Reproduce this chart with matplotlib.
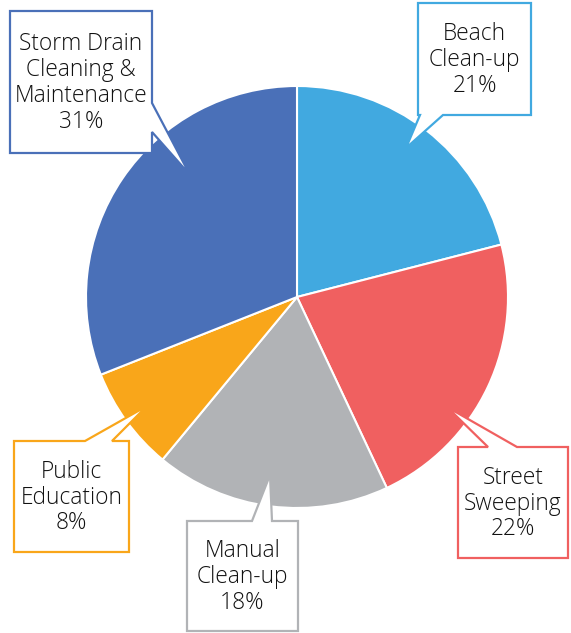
#!/usr/bin/env python3
"""Pie chart of cleanup activities with callout labels -> out.png"""
import matplotlib
matplotlib.use("Agg")
import matplotlib.pyplot as plt
from matplotlib.patches import Polygon

# --- data -----------------------------------------------------------------
categories = ["Beach\nClean-up", "Street\nSweeping", "Manual\nClean-up",
              "Public\nEducation", "Storm Drain\nCleaning &\nMaintenance"]
shares = [21, 22, 18, 8, 31]
colors = ["#41A9E0", "#F06060", "#B1B3B6", "#F9A61A", "#4A70B8"]

# --- layout (pixel coords, y down) ----------------------------------------
W, H = 571, 633
CENTER = (297, 297)
RADIUS = 211
# box (x0, y0, x1, y1), edge with pointer, pointer base (a, b) along edge, tip
callouts = [
    ((418, 3, 531, 115), "bottom", (443, 420), (406, 148)),
    ((458, 447, 568, 558), "top", (488, 517), (447, 407)),
    ((187, 521, 298, 631), "top", (252, 272), (270, 475)),
    ((14, 441, 129, 552), "top", (85, 112), (147, 406)),
    ((10, 11, 152, 153), "right", (103, 132), (190, 175)),
]


def fy(y):
    return H - y


def callout_verts(box, edge, base, tip):
    x0, y0, x1, y1 = box
    a, b = base
    if edge == "top":
        pts = [(x0, y0), (a, y0), tip, (b, y0), (x1, y0), (x1, y1), (x0, y1)]
    elif edge == "bottom":
        pts = [(x0, y0), (x1, y0), (x1, y1), (a, y1), tip, (b, y1), (x0, y1)]
    else:  # right
        pts = [(x0, y0), (x1, y0), (x1, a), tip, (x1, b), (x1, y1), (x0, y1)]
    return [(x, fy(y)) for x, y in pts]


fig = plt.figure(figsize=(W / 100, H / 100), dpi=100)
ax = fig.add_axes([0, 0, 1, 1])

ax.pie(shares, colors=colors, startangle=90, counterclock=False,
       center=(CENTER[0], fy(CENTER[1])), radius=RADIUS,
       wedgeprops=dict(edgecolor="white", linewidth=1.5), frame=True)
ax.set_xlim(0, W)
ax.set_ylim(0, H)
ax.set_aspect("equal")
ax.axis("off")

for (box, edge, base, tip), label, share, col in zip(callouts, categories, shares, colors):
    poly = Polygon(callout_verts(box, edge, base, tip), closed=True,
                   facecolor="white", edgecolor=col, linewidth=1.6,
                   joinstyle="miter", zorder=5)
    ax.add_patch(poly)
    x0, y0, x1, y1 = box
    ax.text((x0 + x1) / 2, fy((y0 + y1) / 2 + 1), f"{label}\n{share}%",
            ha="center", va="center", fontsize=16.4, family="Open Sans",
            fontweight="light", color="#111111", linespacing=1.1, zorder=6)

fig.savefig("out.png", dpi=100)
